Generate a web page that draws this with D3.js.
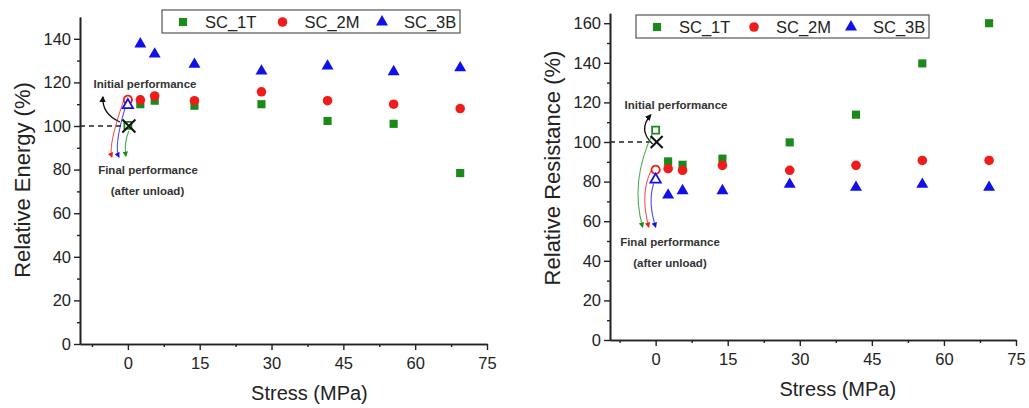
<!DOCTYPE html>
<html>
<head>
<meta charset="utf-8">
<script src="https://cdn.jsdelivr.net/npm/d3@7"></script>
<style>
  body { margin: 0; background: #fff; }
  svg { display: block; font-family: Arial, "Liberation Sans", sans-serif; }
</style>
</head>
<body>
<svg id="chart" width="1029" height="408"></svg>
<script>
// series names and colours
const seriesNames = ['SC_1T', 'SC_2M', 'SC_3B'];
const seriesColors = ['#1b8a1b', '#f01c1c', '#1010e8'];

// stress (MPa) of the loaded points
const stress = [2.6, 5.6, 13.9, 27.9, 41.7, 55.5, 69.4];

// relative energy (%)
const energy1T = [110, 111.6, 109.3, 110, 102.3, 101, 78.4];
const energy2M = [112, 113.8, 111.6, 115.7, 111.6, 110, 108];
const energy3B = [137.6, 133, 128.3, 125.2, 127.5, 124.9, 126.7];
const energyUnload = [100.3, 112, 109.6];   // hollow points at 0 MPa

// relative resistance (%)
const resist1T = [90.2, 88.5, 91.6, 99.8, 113.8, 139.7, 160];
const resist2M = [86.5, 85.7, 88.2, 85.7, 88.2, 90.7, 90.7];
const resist3B = [73.2, 75.4, 75.4, 78.6, 77.1, 78.6, 77.1];
const resistUnload = [106, 86, 81];

// ticks
const xTicks = [0, 15, 30, 45, 60, 75];
const xMinor = [-7.5, 7.5, 22.5, 37.5, 52.5, 67.5];
const energyTicks = [0, 20, 40, 60, 80, 100, 120, 140];
const energyMinor = [10, 30, 50, 70, 90, 110, 130];
const resistTicks = [0, 20, 40, 60, 80, 100, 120, 140, 160];
const resistMinor = [10, 30, 50, 70, 90, 110, 130, 150];

const symbols = [d3.symbolSquare, d3.symbolCircle, d3.symbolTriangle];
const symSize = [66, 72, 62];

const svg = d3.select('#chart');

svg.append('defs').selectAll('marker')
    .data([['black', '#111'], ['c0', seriesColors[0]], ['c1', seriesColors[1]], ['c2', seriesColors[2]]])
    .enter().append('marker')
    .attr('id', d => 'arr-' + d[0])
    .attr('viewBox', '0 0 10 10')
    .attr('refX', 8).attr('refY', 5)
    .attr('markerWidth', 5).attr('markerHeight', 5)
    .attr('orient', 'auto')
    .append('path')
    .attr('d', 'M0,0 L10,5 L0,10 z')
    .attr('fill', d => d[1]);

const drawPanel = function(p) {
  const x = d3.scaleLinear(p.xDomain, p.xRange);
  const y = d3.scaleLinear(p.yDomain, p.yRange);
  const g = svg.append('g');

  const styleAxis = function(sel) {
    sel.select('.domain').attr('stroke', '#222').attr('stroke-width', 1.6);
    sel.selectAll('.tick line').attr('stroke', '#222').attr('stroke-width', 1.4);
    sel.selectAll('text').attr('font-size', 16.5).attr('fill', '#222')
       .attr('font-family', 'Arial, "Liberation Sans", sans-serif');
  };

  // minor ticks
  g.append('g').attr('transform', `translate(0,${p.yRange[0]})`)
      .call(d3.axisBottom(x).tickValues(xMinor).tickSize(3).tickSizeOuter(0).tickFormat(''))
      .call(styleAxis);
  g.append('g').attr('transform', `translate(${p.xRange[0]},0)`)
      .call(d3.axisLeft(y).tickValues(p.yMinor).tickSize(3).tickSizeOuter(0).tickFormat(''))
      .call(styleAxis);
  // major ticks
  g.append('g').attr('transform', `translate(0,${p.yRange[0]})`)
      .call(d3.axisBottom(x).tickValues(xTicks).tickSize(6).tickSizeOuter(0).tickPadding(7))
      .call(styleAxis);
  g.append('g').attr('transform', `translate(${p.xRange[0]},0)`)
      .call(d3.axisLeft(y).tickValues(p.yTicks).tickSize(6).tickSizeOuter(0).tickPadding(3))
      .call(styleAxis);

  // axis titles
  g.append('text')
      .attr('x', (x(0) + x(75)) / 2 + 2).attr('y', p.yRange[0] + 56)
      .attr('text-anchor', 'middle').attr('font-size', 20).attr('fill', '#222')
      .text('Stress (MPa)');
  g.append('text')
      .attr('transform', `translate(${p.yTitleX},${p.yTitleY}) rotate(-90)`)
      .attr('text-anchor', 'middle').attr('font-size', 22).attr('fill', '#222')
      .text(p.yTitle);

  // reference line at 100 %
  g.append('line')
      .attr('x1', p.xRange[0]).attr('x2', x(0) - 6)
      .attr('y1', y(100)).attr('y2', y(100))
      .attr('stroke', '#222').attr('stroke-width', 1.3).attr('stroke-dasharray', '5,4');

  // annotation arrows
  const x0 = x(0), y100 = y(100);
  p.arrows(g, x0, y100, y);

  // hollow points after unload
  p.unload.forEach(function(v, i) {
    g.append('path')
        .attr('transform', `translate(${x(0)},${y(v)})`)
        .attr('d', d3.symbol(symbols[i], symSize[i] * 0.75)())
        .attr('fill', 'white').attr('fill-opacity', i === 0 ? 0 : 1)
        .attr('stroke', seriesColors[i]).attr('stroke-width', 1.8);
  });

  // the X marking the initial performance
  const xs = p.crossSize;
  g.append('path')
      .attr('transform', `translate(${x(0) + 1},${y100})`)
      .attr('d', `M${-xs},${-xs}L${xs},${xs}M${-xs},${xs}L${xs},${-xs}`)
      .attr('stroke', '#111').attr('stroke-width', 2);

  // filled points
  p.series.forEach(function(vals, i) {
    g.append('g').selectAll('path')
        .data(vals)
        .enter().append('path')
        .attr('transform', (d, j) => `translate(${x(stress[j])},${y(d)})`)
        .attr('d', d3.symbol(symbols[i], symSize[i])())
        .attr('fill', seriesColors[i]);
  });

  // annotation texts
  p.notes.forEach(function(n) {
    g.append('text')
        .attr('x', n[0]).attr('y', n[1])
        .attr('text-anchor', 'middle').attr('font-size', 11.5)
        .attr('font-weight', 'bold').attr('fill', '#333')
        .text(n[2]);
  });

  // legend
  const lg = g.append('g').attr('transform', `translate(${p.legend[0]},${p.legend[1]})`);
  lg.append('rect')
      .attr('width', p.legend[2]).attr('height', 23)
      .attr('fill', 'white').attr('stroke', '#555').attr('stroke-width', 1.2);
  seriesNames.forEach(function(name, i) {
    const ox = 21 + i * p.legend[3];
    lg.append('path')
        .attr('transform', `translate(${ox},${12})`)
        .attr('d', d3.symbol(symbols[i], symSize[i])())
        .attr('fill', seriesColors[i]);
    lg.append('text')
        .attr('x', ox + 22).attr('y', 18)
        .attr('font-size', 16.5).attr('fill', '#222')
        .text(name);
  });
};

const curve = function(g, d, key, w) {
  g.append('path').attr('d', d)
      .attr('fill', 'none')
      .attr('stroke', key === 'black' ? '#111' : seriesColors[+key.slice(1)])
      .attr('stroke-opacity', key === 'black' ? 1 : 0.75)
      .attr('stroke-width', w)
      .attr('marker-end', `url(#arr-${key})`);
};

drawPanel({
  xDomain: [-10, 75], xRange: [80, 487],
  yDomain: [0, 150], yRange: [344, 17],
  yTicks: energyTicks, yMinor: energyMinor,
  yTitle: 'Relative Energy (%)', yTitleX: 30, yTitleY: 180,
  series: [energy1T, energy2M, energy3B],
  unload: energyUnload,
  crossSize: 6.5,
  legend: [162, 10, 298, 99.5],
  notes: [[145, 88, 'Initial performance'], [148, 174, 'Final performance'], [147.5, 195, '(after unload)']],
  arrows: function(g, x0, y100, y) {
    curve(g, `M${x0 - 8},${y100 - 4} Q${x0 - 26},${y100 - 12} ${x0 - 25},${y100 - 29}`, 'black', 1.3);
    curve(g, `M${x0 - 4},${y(112)} Q${x0 - 20},${y100 + 20} ${x0 - 16},${y100 + 31}`, 'c1', 1.1);
    curve(g, `M${x0 - 3},${y(108)} Q${x0 - 14},${y100 + 20} ${x0 - 9},${y100 + 31}`, 'c2', 1.1);
    curve(g, `M${x0 + 1},${y100 + 5} Q${x0 - 4},${y100 + 16} ${x0 - 2},${y100 + 30}`, 'c0', 1.1);
  }
});

drawPanel({
  xDomain: [-9.5, 75], xRange: [610, 1016],
  yDomain: [0, 165], yRange: [340, 13.3],
  yTicks: resistTicks, yMinor: resistMinor,
  yTitle: 'Relative Resistance (%)', yTitleX: 560, yTitleY: 168,
  series: [resist1T, resist2M, resist3B],
  unload: resistUnload,
  crossSize: 6,
  legend: [636, 15, 293, 97],
  notes: [[676, 109, 'Initial performance'], [670, 246, 'Final performance'], [670, 267, '(after unload)']],
  arrows: function(g, x0, y100, y) {
    curve(g, `M${x0 - 3},${y100 + 2} Q${x0 - 18},${y100 - 12} ${x0 - 5},${y100 - 27}`, 'black', 1.3);
    curve(g, `M${x0 - 3},${y(106) + 3} Q${x0 - 26},${y100 + 40} ${x0 - 13},${y100 + 85}`, 'c0', 1.1);
    curve(g, `M${x0 - 4},${y(86)} Q${x0 - 16},${y100 + 50} ${x0 - 7},${y100 + 85}`, 'c1', 1.1);
    curve(g, `M${x0 - 2},${y(81) + 4} Q${x0 - 8},${y100 + 60} ${x0},${y100 + 85}`, 'c2', 1.1);
  }
});
</script>
</body>
</html>
